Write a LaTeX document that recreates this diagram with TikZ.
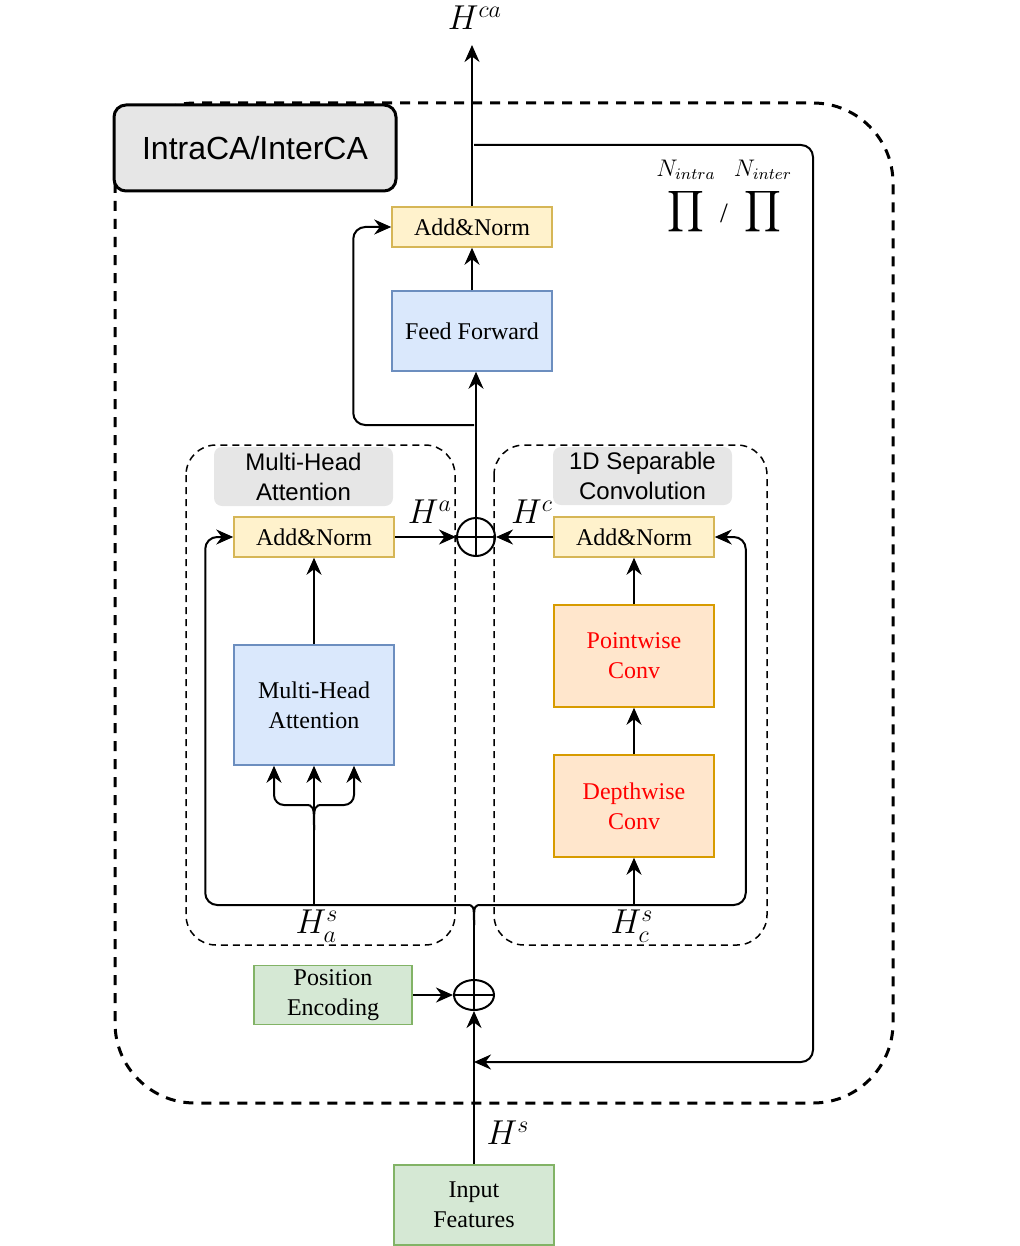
\documentclass[tikz,border=0pt]{standalone}
\usepackage{amsmath}
\usepackage{fontspec}
\setmainfont{Liberation Serif}
\newfontfamily\arialfont{Liberation Sans}
\usetikzlibrary{arrows.meta,positioning,shapes.geometric}

\definecolor{anfill}{HTML}{FFF2CC}
\definecolor{anline}{HTML}{D6B656}
\definecolor{bluefill}{HTML}{DAE8FC}
\definecolor{blueline}{HTML}{6C8EBF}
\definecolor{orfill}{HTML}{FFE6CC}
\definecolor{orline}{HTML}{D79B00}
\definecolor{grfill}{HTML}{D5E8D4}
\definecolor{grline}{HTML}{82B366}
\definecolor{tagfill}{HTML}{E6E6E6}

\tikzset{
  blk/.style={draw, line width=0.75pt, align=center, inner sep=0pt,
    font=\fontsize{12}{15}\selectfont},
  addnorm/.style={blk, fill=anfill, draw=anline, minimum width=80pt, minimum height=20pt},
  bluebox/.style={blk, fill=bluefill, draw=blueline, minimum width=80pt},
  convbox/.style={blk, fill=orfill, draw=orline, text=red, minimum width=80pt, minimum height=51pt},
  greenbox/.style={blk, fill=grfill, draw=grline},
  tag/.style={fill=tagfill, rounded corners=4pt, align=center, inner sep=0pt,
    font=\arialfont\fontsize{12}{15}\selectfont},
  mathlbl/.style={inner sep=0pt, font=\fontsize{17}{20}\selectfont},
  ln/.style={line width=1pt},
  arr/.style={ln, -{Stealth[length=8.5pt,width=7.5pt]}},
  subbox/.style={dashed, line width=0.75pt, dash pattern=on 3.5pt off 2.5pt, rounded corners=15pt},
}

\begin{document}
\begin{tikzpicture}[x=0.5pt, y=-0.5pt]
  \useasboundingbox (0,0) rectangle (1019,1246);

  % outer block and title
  \draw[line width=1.5pt, dash pattern=on 5pt off 4pt, rounded corners=40pt] (115,103) rectangle (893,1103);
  \node[draw, line width=1.5pt, fill=tagfill, rounded corners=6pt, minimum width=141pt, minimum height=43pt,
    inner sep=0pt, font=\arialfont\fontsize{16}{19}\selectfont] (title) at (255,148) {IntraCA/InterCA};

  % the two branches
  \draw[subbox] (186,445) rectangle (455,945);
  \draw[subbox] (494,445) rectangle (767,945);
  \node[tag, minimum width=89.5pt, minimum height=29.5pt] (mhatag) at (303.5,476.5) {Multi-Head\\Attention};
  \node[tag, minimum width=89.5pt, minimum height=29pt] (septag) at (642.5,476) {1D Separable\\Convolution};

  % blocks
  \node[addnorm] (antop) at (472,227) {Add\&Norm};
  \node[bluebox, minimum height=40pt] (ff) at (472,331) {Feed Forward};
  \node[addnorm] (anl) at (314,537) {Add\&Norm};
  \node[bluebox, minimum height=60pt] (mha) at (314,705) {Multi-Head\\Attention};
  \node[addnorm] (anr) at (634,537) {Add\&Norm};
  \node[convbox] (pw) at (634,656) {Pointwise\\Conv};
  \node[convbox] (dw) at (634,806) {Depthwise\\Conv};
  \node[greenbox, minimum width=79pt, minimum height=29.5pt] (pe) at (333,995) {Position\\Encoding};
  \node[greenbox, minimum width=80pt, minimum height=40pt] (inp) at (474,1205) {Input\\Features};

  % adders
  \node[draw, circle, line width=1pt, minimum size=19pt, inner sep=0pt] (plusa) at (476,537) {};
  \draw[ln] (plusa.north) -- (plusa.south) (plusa.west) -- (plusa.east);
  \node[draw, ellipse, line width=1pt, minimum width=20pt, minimum height=15pt, inner sep=0pt] (plusb) at (474,995) {};
  \draw[ln] (plusb.west) -- (plusb.east);

  % labels
  \node[mathlbl] (hca) at (475,18) {$H^{ca}$};
  \node[mathlbl] (ha) at (430,512) {$H^{a}$};
  \node[mathlbl] (hc) at (532,512) {$H^{c}$};
  \node[mathlbl] (has) at (317,926) {$H_a^{s}$};
  \node[mathlbl] (hcs) at (632,926) {$H_c^{s}$};
  \node[mathlbl] (hs) at (508,1133) {$H^{s}$};
  \node[inner sep=0pt, font=\fontsize{12}{15}\selectfont] (nintra) at (686,170) {$N_{intra}$};
  \node[inner sep=0pt, font=\fontsize{12}{15}\selectfont] (ninter) at (763,170) {$N_{inter}$};
  \node[inner sep=0pt, font=\fontsize{14}{17}\selectfont] (proda) at (686,212) {$\displaystyle\prod$};
  \node[inner sep=0pt, font=\fontsize{14}{17}\selectfont] (prodb) at (763,212) {$\displaystyle\prod$};
  \node[inner sep=0pt, font=\fontsize{14}{17}\selectfont] (slash) at (724,213) {/};

  % main path
  \coordinate (out) at (472,45);
  \coordinate (fork) at (474,925);
  \coordinate (forkl) at (454,905);
  \coordinate (forkr) at (494,905);
  \draw[arr] (inp.north) -- (plusb.south);
  \draw[ln] (plusb.south) -- (plusb.north);
  \draw[ln] (plusb.north) -- (fork);
  \draw[arr] (pe.east) -- (plusb.west);
  \draw[arr, rounded corners=6pt] (fork) .. controls (fork |- forkl) .. (forkl) -| ([xshift=-14pt]anl.west) -- (anl.west);
  \draw[arr, rounded corners=6pt] (fork) .. controls (fork |- forkr) .. (forkr) -| ([xshift=15.5pt]anr.east) -- (anr.east);

  % attention branch
  \coordinate (stema) at (314,905);
  \coordinate (split) at (314,830);
  \coordinate (brl) at (294,805);
  \coordinate (brr) at (334,805);
  \draw[arr] (stema) -- (mha.south);
  \draw[arr, rounded corners=5pt] (split) .. controls (split |- brl) .. (brl) -| ([xshift=-20pt]mha.south);
  \draw[arr, rounded corners=5pt] (split) .. controls (split |- brr) .. (brr) -| ([xshift=20pt]mha.south);
  \draw[arr] (mha.north) -- (anl.south);
  \draw[arr] (anl.east) -- (plusa.west);

  % convolution branch
  \coordinate (stemc) at (634,905);
  \draw[arr] (stemc) -- (dw.south);
  \draw[arr] (dw.north) -- (pw.south);
  \draw[arr] (pw.north) -- (anr.south);
  \draw[arr] (anr.west) -- (plusa.east);

  % feed forward
  \coordinate (res) at (474,425);
  \draw[arr] (plusa.north) -- (ff.south -| plusa);
  \draw[arr, rounded corners=6pt] (res) -| ([xshift=-19pt]antop.west) -- (antop.west);
  \draw[arr] (ff.north) -- (antop.south);
  \draw[arr] (antop.north) -- (out);

  % repeat loop
  \coordinate (loops) at (474,145);
  \coordinate (loopne) at (813,145);
  \coordinate (loopse) at (813,1062);
  \coordinate (loope) at (474,1062);
  \draw[arr, rounded corners=6pt] (loops) -- (loopne) -- (loopse) -- (loope);
\end{tikzpicture}
\end{document}
